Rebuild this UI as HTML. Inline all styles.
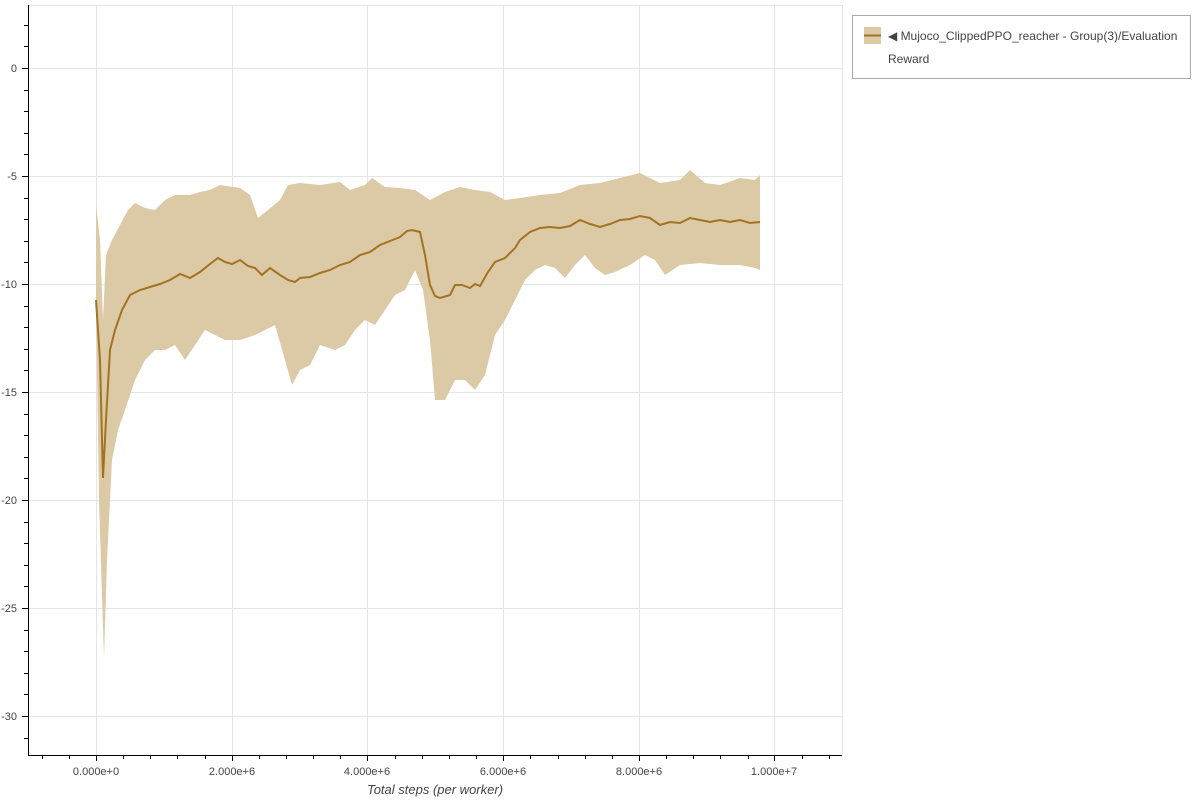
<!DOCTYPE html>
<html><head><meta charset="utf-8"><style>
body{margin:0;background:#fff;width:1200px;height:800px;overflow:hidden;font-family:"Liberation Sans",sans-serif}
</style></head><body>
<svg width="1200" height="800" xmlns="http://www.w3.org/2000/svg" font-family="Liberation Sans, sans-serif">
<g stroke="#e5e5e5" stroke-width="1">
<line x1="96.5" y1="5" x2="96.5" y2="755"/><line x1="232.5" y1="5" x2="232.5" y2="755"/><line x1="367.5" y1="5" x2="367.5" y2="755"/><line x1="503.5" y1="5" x2="503.5" y2="755"/><line x1="639.5" y1="5" x2="639.5" y2="755"/><line x1="774.5" y1="5" x2="774.5" y2="755"/>
<line x1="28" y1="68.5" x2="842" y2="68.5"/><line x1="28" y1="176.5" x2="842" y2="176.5"/><line x1="28" y1="284.5" x2="842" y2="284.5"/><line x1="28" y1="392.5" x2="842" y2="392.5"/><line x1="28" y1="500.5" x2="842" y2="500.5"/><line x1="28" y1="608.5" x2="842" y2="608.5"/><line x1="28" y1="716.5" x2="842" y2="716.5"/>
<line x1="28" y1="5.5" x2="842" y2="5.5"/><line x1="842.5" y1="5" x2="842.5" y2="755"/>
</g>
<polygon fill="#dcc9a5" points="96,205 100,240 103,320 106,255 112,240 120,225 128,210 135,203 145,208 155,210 165,200 175,195 190,195 200,192 210,190 220,185 240,188 250,195 258,218 268,210 280,200 288,185 300,183 320,185 340,182 350,190 365,185 372,178 385,187 400,188 415,190 430,200 445,192 460,187 475,190 490,192 505,200 520,198 540,195 560,193 580,185 600,183 620,178 640,173 660,183 680,180 690,170 705,183 720,185 740,178 755,180 760,175 760,270 755,268 740,265 720,265 700,263 680,265 665,275 655,260 645,255 630,265 615,272 605,275 595,268 585,255 575,265 565,278 555,268 545,265 535,270 525,280 515,300 505,320 495,335 485,375 475,390 465,380 455,380 445,400 435,400 430,340 423,290 415,270 405,290 395,295 385,310 375,325 365,320 355,330 345,345 335,350 320,345 310,365 300,370 292,385 285,360 275,325 265,330 255,335 240,340 225,340 215,335 205,330 195,345 185,360 175,345 165,350 155,350 145,360 135,380 125,410 118,430 112,460 107,560 104,658 99,500 96,310"/>
<polyline fill="none" stroke="#a37322" stroke-width="2" points="96,300 100,360 103,478 106,420 110,350 115,330 122,310 130,295 140,290 150,287 160,284 170,280 180,274 190,278 200,272 210,264 218,258 225,262 232,264 240,260 248,266 255,268 262,275 270,268 280,275 288,280 295,282 300,278 310,277 320,273 330,270 340,265 350,262 360,255 370,252 380,245 390,241 400,237 407,231 412,230 420,232 425,255 430,285 435,296 440,298 450,295 455,285 462,285 470,288 475,284 480,286 488,272 495,262 505,258 515,248 520,240 530,232 540,228 550,227 560,228 570,226 580,220 590,224 600,227 610,224 620,220 630,219 640,216 650,218 660,225 670,222 680,223 690,218 700,220 710,222 720,220 730,222 740,220 750,223 760,222"/>
<g stroke="#000" stroke-width="1">
<line x1="28.5" y1="5" x2="28.5" y2="756"/><line x1="28" y1="755.5" x2="842" y2="755.5"/>
<line x1="22" y1="68.5" x2="28" y2="68.5"/><line x1="22" y1="176.5" x2="28" y2="176.5"/><line x1="22" y1="284.5" x2="28" y2="284.5"/><line x1="22" y1="392.5" x2="28" y2="392.5"/><line x1="22" y1="500.5" x2="28" y2="500.5"/><line x1="22" y1="608.5" x2="28" y2="608.5"/><line x1="22" y1="716.5" x2="28" y2="716.5"/>
<line x1="96.5" y1="755" x2="96.5" y2="761"/><line x1="232.5" y1="755" x2="232.5" y2="761"/><line x1="367.5" y1="755" x2="367.5" y2="761"/><line x1="503.5" y1="755" x2="503.5" y2="761"/><line x1="639.5" y1="755" x2="639.5" y2="761"/><line x1="774.5" y1="755" x2="774.5" y2="761"/>
</g>
<g id="minor" stroke="#000" stroke-width="1"></g>
<g font-size="11" fill="#444" text-anchor="end">
<text x="17" y="72">0</text><text x="17" y="180">-5</text><text x="17" y="288">-10</text><text x="17" y="396">-15</text><text x="17" y="504">-20</text><text x="17" y="612">-25</text><text x="17" y="720">-30</text>
</g>
<g font-size="11" fill="#444" text-anchor="middle">
<text x="96" y="775">0.000e+0</text><text x="232" y="775">2.000e+6</text><text x="367" y="775">4.000e+6</text><text x="503" y="775">6.000e+6</text><text x="639" y="775">8.000e+6</text><text x="774" y="775">1.000e+7</text>
</g>
<text x="435" y="794" font-size="13" font-style="italic" fill="#444" text-anchor="middle">Total steps (per worker)</text>
<rect x="852.5" y="15.5" width="338" height="63" fill="#fff" stroke="#aaa"/>
<rect x="864" y="27" width="17" height="17" fill="#dcc9a5"/>
<line x1="864" y1="35.5" x2="881" y2="35.5" stroke="#a37322" stroke-width="2"/>
<text x="888" y="40" font-size="12" fill="#444">◀ Mujoco_ClippedPPO_reacher - Group(3)/Evaluation</text>
<text x="888" y="63" font-size="12" fill="#444">Reward</text>
</svg>
<script>
var g=document.getElementById('minor'),s='';
for(var i=-2;i<=27;i++){var x=96+i*27.15;if(x<29||x>842)continue;if(i%5==0)continue;s+='<line x1="'+(Math.round(x)+.5)+'" y1="755" x2="'+(Math.round(x)+.5)+'" y2="759"/>';}
for(var v=2;v>=-31;v--){if(v%5==0)continue;var y=68+(-v)*21.6;if(y<6||y>754)continue;s+='<line x1="24" y1="'+(Math.round(y)+.5)+'" x2="28" y2="'+(Math.round(y)+.5)+'"/>';}
g.innerHTML=s;
</script>
</body></html>
